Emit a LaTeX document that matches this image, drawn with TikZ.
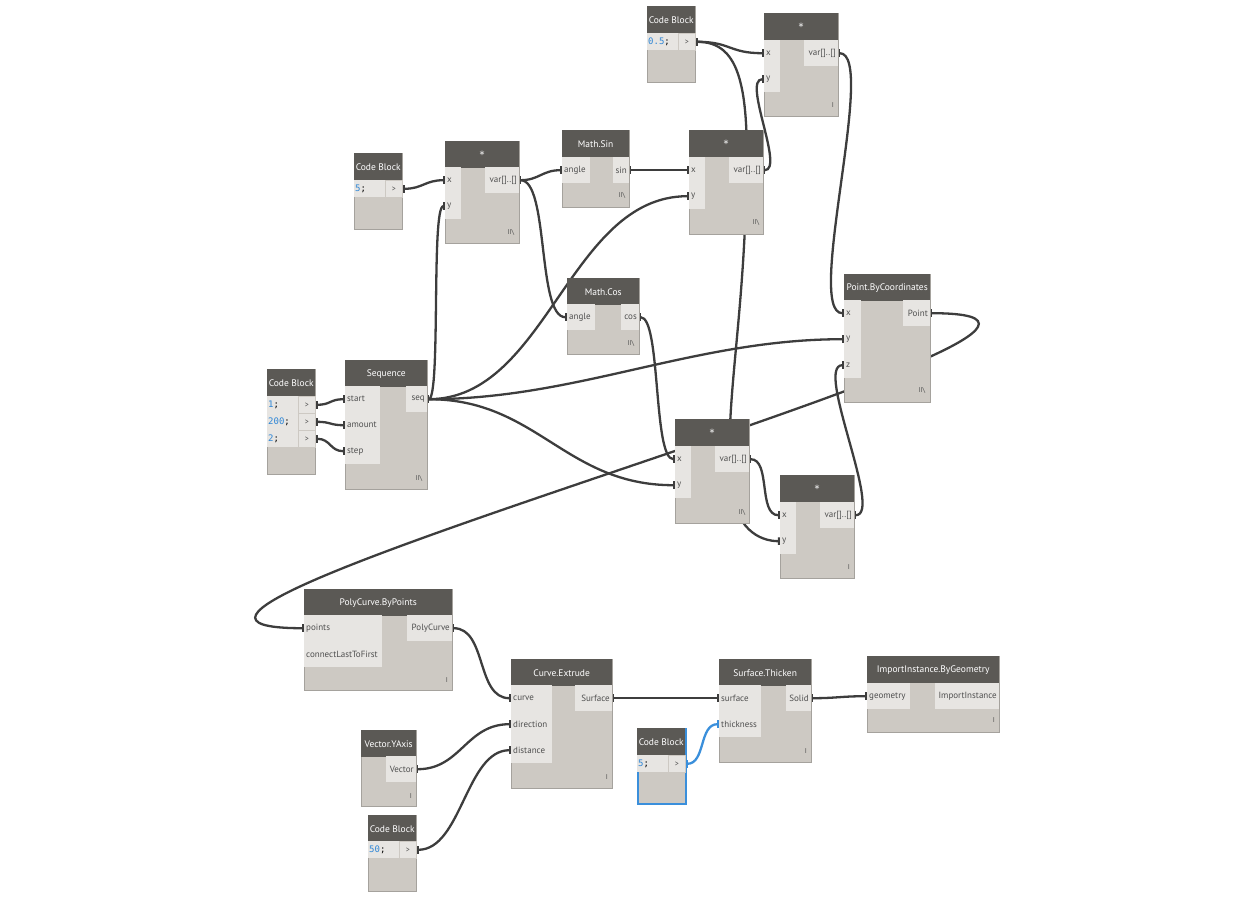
\documentclass[tikz,border=0pt]{standalone}
\usepackage{fontspec}
\setmainfont{PT Sans}
\newfontfamily\codefont{DejaVu Sans Mono}
\newfontfamily\symfont{DejaVu Sans}
\usetikzlibrary{arrows.meta}
\pgfdeclarelayer{bg}
\pgfsetlayers{bg,main}
\definecolor{hdr}{HTML}{5B5955}
\definecolor{bodyc}{HTML}{CDC9C3}
\definecolor{portc}{HTML}{E7E5E2}
\definecolor{edgec}{HTML}{A5A29D}
\definecolor{wirec}{HTML}{3D3D3D}
\definecolor{codeblue}{HTML}{2E86D6}
\definecolor{selblue}{HTML}{3A8FDB}
\definecolor{ptxt}{HTML}{4F4F4F}
\tikzset{
  bodybox/.style={draw=edgec, fill=bodyc, line width=0.8, inner sep=0, anchor=north west},
  selbox/.style={draw=selblue, line width=2},
  headbox/.style={fill=hdr, text=white, font=\fontsize{9.5}{10}\selectfont, inner sep=0, anchor=north west, minimum height=27},
  portrect/.style={fill=portc, inner sep=0, anchor=north west},
  outrect/.style={fill=portc, inner sep=0, anchor=north east},
  ptext/.style={text=ptxt, font=\fontsize{9}{9}\selectfont, inner sep=0},
  gtcell/.style={fill=portc, draw=bodyc, line width=0.6, inner sep=0, anchor=north west, minimum width=17, minimum height=17, text=ptxt, font=\fontsize{8}{9}\selectfont},
  codetext/.style={font=\codefont\fontsize{9}{9}\selectfont, inner sep=0, anchor=west},
  lacing/.style={text=ptxt, font=\fontsize{7}{8}\selectfont, inner sep=0},
  wire/.style={draw=wirec, line width=2.3, arrows={Rectangle[length=2.2,width=7.5]-Rectangle[length=2.2,width=7.5]}},
  bluewire/.style={draw=selblue, line width=2.3, arrows={Rectangle[length=2.2,width=7.5]-Rectangle[length=2.2,width=7.5]}}
}
% name, x, y, w, h, title
\newcommand\dbox[7][]{%
  \node[bodybox, minimum width=#5, minimum height=#6, #1] (#2) at (#3,#4) {};
  \node[headbox, minimum width=#5] (#2-t) at (#3,#4) {#7};}
% name, x, y, w, h, label
\newcommand\inp[6]{%
  \node[portrect, minimum width=#4, minimum height=#5] (#1) at (#2,#3) {};
  \node[ptext, anchor=west, xshift=2] (#1-l) at (#1.west) {#6};}
% name, right x, y, w, h, label
\newcommand\outp[6]{%
  \node[outrect, minimum width=#4, minimum height=#5] (#1) at (#2,#3) {};
  \node[ptext, anchor=east, xshift=-2] (#1-l) at (#1.east) {#6};}
% name, x, y, content
\newcommand\cbrow[4]{%
  \node[portrect, minimum width=31, minimum height=17] (#1-c) at (#2,#3) {};
  \node[codetext] (#1-v) at ({#2+1},{#3+8.5}) {{\color{codeblue}#4}{\color{black};}};
  \node[gtcell] (#1) at ({#2+31},#3) {>};}
\newcommand\lace[4]{\node[lacing] (#1) at (#2,#3) {#4};}
\newcommand\lt{II\textbackslash}
\newcommand\st{{\symfont\fontsize{10}{10}\selectfont *}}
\begin{document}
\begin{tikzpicture}[x=1pt,y=-1pt]
\useasboundingbox (0,0) rectangle (1234,902);
% Code Block 0.5
\dbox{cb05}{647}{6}{48}{76}{Code Block}
\cbrow{cb05-o}{647}{33}{0.5}
% * (top right)
\dbox{m4}{764}{13}{74}{103}{\st}
\inp{m4-x}{764}{40}{16}{26}{x}
\inp{m4-y}{764}{66}{16}{26}{y}
\outp{m4-o}{838}{40}{34}{26}{var[]..[]}
\lace{m4-l}{833}{105}{I}
% Code Block 5
\dbox{cb5}{354}{153}{48}{76}{Code Block}
\cbrow{cb5-o}{354}{180}{5}
% * m1
\dbox{m1}{445}{141}{74}{102}{\st}
\inp{m1-x}{445}{167}{16}{26}{x}
\inp{m1-y}{445}{193}{16}{26}{y}
\outp{m1-o}{519}{167}{34}{26}{var[]..[]}
\lace{m1-l}{511}{232}{\lt}
% Math.Sin
\dbox{sin}{562}{130}{67}{77}{Math.Sin}
\inp{sin-a}{562}{157}{28}{26}{angle}
\outp{sin-o}{629}{157}{16}{26}{sin}
\lace{sin-l}{622}{195}{\lt}
% * m2
\dbox{m2}{689}{130}{74}{104}{\st}
\inp{m2-x}{689}{157}{16}{26}{x}
\inp{m2-y}{689}{183}{16}{26}{y}
\outp{m2-o}{763}{157}{34}{26}{var[]..[]}
\lace{m2-l}{756}{222}{\lt}
% Math.Cos
\dbox{cos}{567}{278}{72}{76}{Math.Cos}
\inp{cos-a}{567}{304}{28}{26}{angle}
\outp{cos-o}{639}{304}{18}{26}{cos}
\lace{cos-l}{631}{343}{\lt}
% Point.ByCoordinates
\dbox{pbc}{844}{274}{86}{128}{Point.ByCoordinates}
\inp{pbc-x}{844}{300}{17}{26}{x}
\inp{pbc-y}{844}{326}{17}{26}{y}
\inp{pbc-z}{844}{352}{17}{26}{z}
\outp{pbc-o}{930}{300}{27}{26}{Point}
\lace{pbc-l}{922}{390}{\lt}
% Code Block 1;200;2;
\dbox{cb3}{267}{369}{48}{105}{Code Block}
\cbrow{cb3a}{267}{396}{1}
\cbrow{cb3b}{267}{413}{200}
\cbrow{cb3c}{267}{430}{2}
% Sequence
\dbox{seq}{345}{360}{82}{129}{Sequence}
\inp{seq-s}{345}{386}{35}{26}{start}
\inp{seq-a}{345}{412}{35}{26}{amount}
\inp{seq-st}{345}{438}{35}{26}{step}
\outp{seq-o}{427}{386}{21}{26}{seq}
\lace{seq-l}{419}{478}{\lt}
% * m3
\dbox{m3}{675}{419}{74}{104}{\st}
\inp{m3-x}{675}{446}{16}{26}{x}
\inp{m3-y}{675}{472}{16}{26}{y}
\outp{m3-o}{749}{446}{34}{26}{var[]..[]}
\lace{m3-l}{742}{512}{\lt}
% * m5
\dbox{m5}{780}{475}{74}{103}{\st}
\inp{m5-x}{780}{502}{16}{26}{x}
\inp{m5-y}{780}{528}{16}{26}{y}
\outp{m5-o}{854}{502}{34}{26}{var[]..[]}
\lace{m5-l}{849}{567}{I}
% PolyCurve.ByPoints
\dbox{pcb}{304}{589}{148}{101}{PolyCurve.ByPoints}
\inp{pcb-p}{304}{615}{78}{26}{points}
\inp{pcb-c}{304}{641}{78}{26}{connectLastToFirst}
\outp{pcb-o}{452}{615}{45}{26}{PolyCurve}
\lace{pcb-l}{447}{680}{I}
% Curve.Extrude
\dbox{ce}{511}{659}{101}{129}{Curve.Extrude}
\inp{ce-c}{511}{685}{41}{26}{curve}
\inp{ce-dir}{511}{711}{41}{26}{direction}
\inp{ce-dis}{511}{737}{41}{26}{distance}
\outp{ce-o}{612}{685}{37}{26}{Surface}
\lace{ce-l}{607}{777}{I}
% Surface.Thicken
\dbox{st}{719}{659}{92}{103}{Surface.Thicken}
\inp{st-s}{719}{685}{42}{26}{surface}
\inp{st-t}{719}{711}{42}{26}{thickness}
\outp{st-o}{811}{685}{25}{26}{Solid}
\lace{st-l}{806}{751}{I}
% ImportInstance.ByGeometry
\dbox{ii}{867}{656}{132}{76}{ImportInstance.ByGeometry}
\inp{ii-g}{867}{683}{43}{26}{geometry}
\outp{ii-o}{999}{683}{64}{26}{ImportInstance}
\lace{ii-l}{994}{720}{I}
% Code Block 5 (selected)
\dbox[selbox]{cbb}{637}{728}{48}{75}{Code Block}
\cbrow{cbb-o}{637}{755}{5}
% Vector.YAxis
\dbox{vy}{361}{730}{55}{76}{Vector.YAxis}
\outp{vy-o}{416}{756}{30}{26}{Vector}
\lace{vy-l}{411}{796}{I}
% Code Block 50
\dbox{cb50}{368}{815}{48}{76}{Code Block}
\cbrow{cb50-o}{368}{841}{50}

\begin{pgfonlayer}{bg}
\draw[wire] (cb5-o.east) .. controls +(20,0) and +(-20,0) .. (m1-x.west);
\draw[wire] (seq-o.east) .. controls +(14,0) and +(-14,0) .. (m1-y.west);
\draw[wire] (m1-o.east) .. controls +(20,0) and +(-20,0) .. (sin-a.west);
\draw[wire] (m1-o.east) .. controls +(30,0) and +(-30,0) .. (cos-a.west);
\draw[wire] (sin-o.east) .. controls +(20,0) and +(-20,0) .. (m2-x.west);
\draw[wire] (seq-o.east) .. controls +(120,0) and +(-120,0) .. (m2-y.west);
\draw[wire] (seq-o.east) .. controls +(150,0) and +(-150,0) .. (pbc-y.west);
\draw[wire] (seq-o.east) .. controls +(110,0) and +(-110,0) .. (m3-y.west);
\draw[wire] (cos-o.east) .. controls +(22,0) and +(-22,0) .. (m3-x.west);
\draw[wire] (cb05-o.east) .. controls +(35,0) and +(-35,0) .. (m4-x.west);
\draw[wire] (cb05-o.east) .. controls +(46,0) and (750,90) .. (746,200)
   .. controls (742,330) and (726,400) .. (730,480)
   .. controls (734,530) and (760,541) .. (m5-y.west);
\draw[wire] (m2-o.east) .. controls +(22,0) and +(-22,0) .. (m4-y.west);
\draw[wire] (m4-o.east) .. controls +(40,0) and +(-40,0) .. (pbc-x.west);
\draw[wire] (m5-o.east) .. controls +(30,0) and +(-30,0) .. (pbc-z.west);
\draw[wire] (m3-o.east) .. controls +(22,0) and +(-22,0) .. (m5-x.west);
\draw[wire] (pbc-o.east) .. controls +(300,0) and +(-300,0) .. (pcb-p.west);
\draw[wire] (pcb-o.east) .. controls +(35,0) and +(-35,0) .. (ce-c.west);
\draw[wire] (vy-o.east) .. controls +(45,0) and +(-45,0) .. (ce-dir.west);
\draw[wire] (cb50-o.east) .. controls +(45,0) and +(-45,0) .. (ce-dis.west);
\draw[wire] (ce-o.east) .. controls +(40,0) and +(-40,0) .. (st-s.west);
\draw[bluewire] (cbb-o.east) .. controls +(20,0) and +(-20,0) .. (st-t.west);
\draw[wire] (st-o.east) .. controls +(25,0) and +(-25,0) .. (ii-g.west);
\draw[wire] (cb3a.east) .. controls +(15,0) and +(-15,0) .. (seq-s.west);
\draw[wire] (cb3b.east) .. controls +(15,0) and +(-15,0) .. (seq-a.west);
\draw[wire] (cb3c.east) .. controls +(15,0) and +(-15,0) .. (seq-st.west);
\end{pgfonlayer}
\end{tikzpicture}
\end{document}
